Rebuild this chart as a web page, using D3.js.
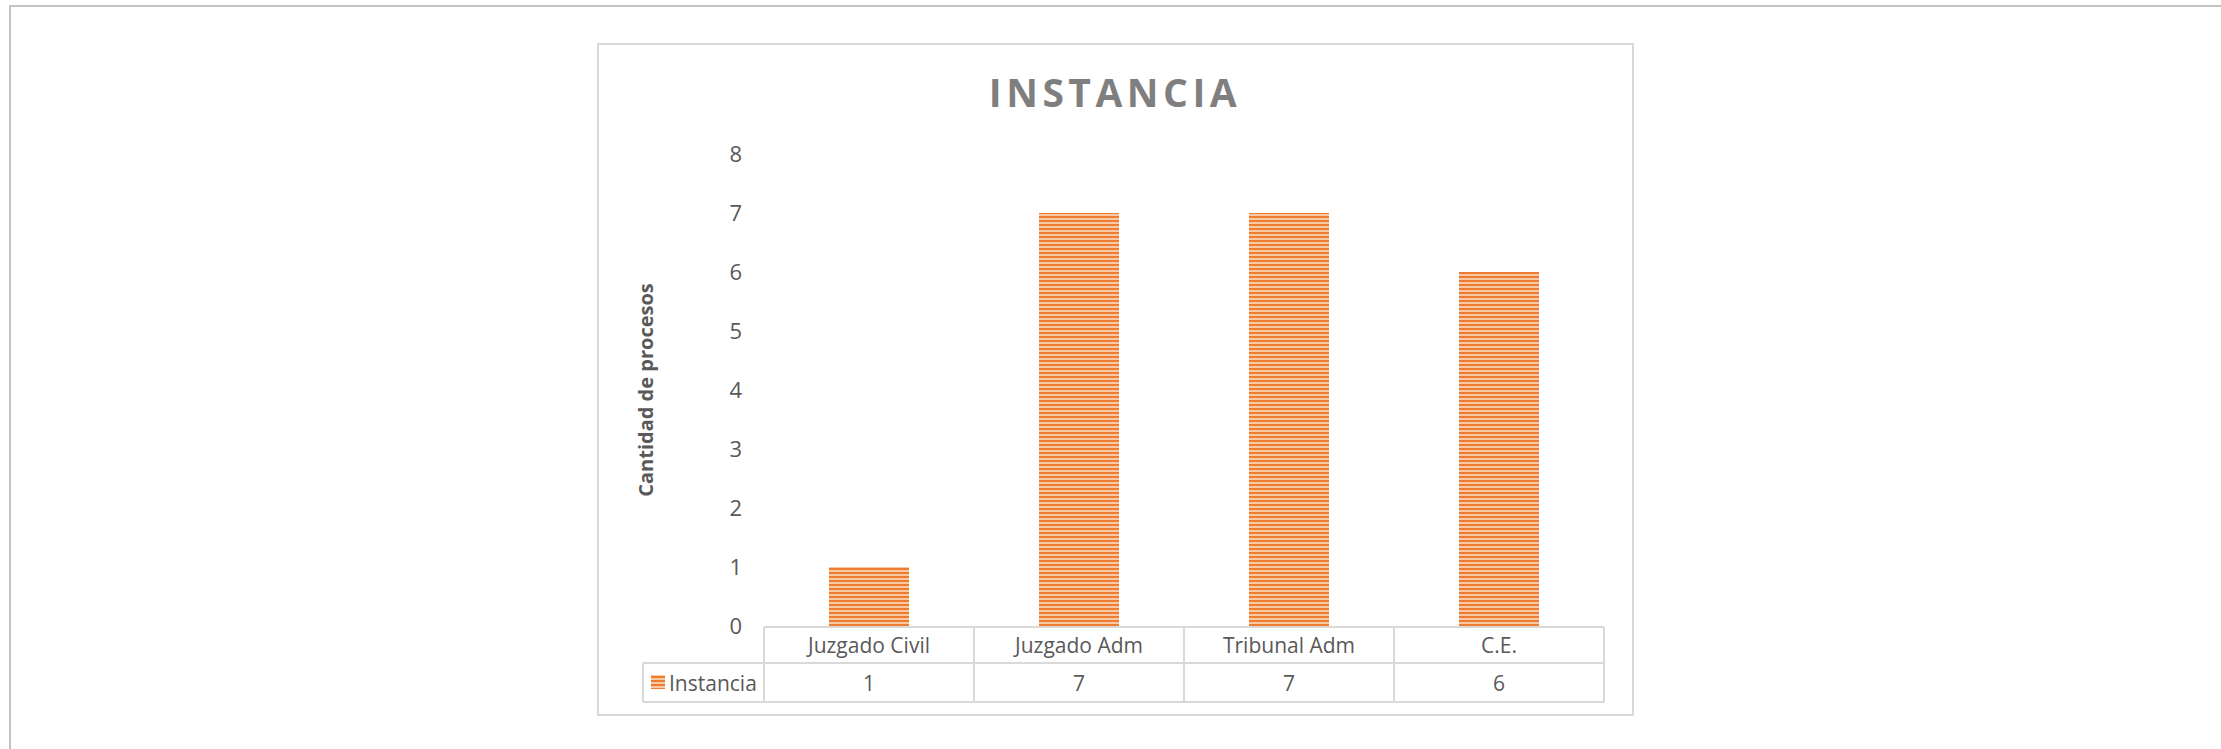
<!DOCTYPE html>
<html><head><meta charset="utf-8">
<script src="https://cdn.jsdelivr.net/npm/d3@7"></script>
<style>html,body{margin:0;padding:0;background:#fff;overflow:hidden}svg{display:block;font-family:"Open Sans",sans-serif}</style>
</head><body>
<svg id="c" width="2221" height="749"></svg>
<script>
const categories = ["Juzgado Civil", "Juzgado Adm", "Tribunal Adm", "C.E."];
const values = [1, 7, 7, 6];
const seriesName = "Instancia";
const yTicks = [0, 1, 2, 3, 4, 5, 6, 7, 8];
const title = "INSTANCIA";
const yTitle = "Cantidad de procesos";

const svg = d3.select("#c");
// outer frame
svg.append("rect").attr("x",10).attr("y",6).attr("width",2222).attr("height",760)
  .attr("fill","none").attr("stroke","#c3c3c3").attr("stroke-width",2);
// chart box
svg.append("rect").attr("x",598).attr("y",44).attr("width",1035).attr("height",671)
  .attr("fill","#fff").attr("stroke","#d9d9d9").attr("stroke-width",2);

const defs = svg.append("defs");
const pat = defs.append("pattern").attr("id","stripe").attr("patternUnits","userSpaceOnUse")
  .attr("width",8).attr("height",4);
pat.append("rect").attr("width",8).attr("height",4).attr("fill","#f9c9a4");
pat.append("rect").attr("width",8).attr("height",2).attr("fill","#ed7d31");

const x = d3.scaleBand().domain(categories).range([764,1604]).padding(0);
const y = d3.scaleLinear().domain([0,8]).range([626,154]);

// title
svg.append("text").attr("x",1115).attr("y",107).attr("text-anchor","middle")
  .attr("font-size",39).attr("font-weight","bold").attr("fill","#7f7f7f")
  .attr("letter-spacing",4.5).text(title);

// y axis
const yAxis = d3.axisLeft(y).tickValues(yTicks).tickSize(0).tickPadding(0).tickFormat(d3.format("d"));
const ga = svg.append("g").attr("transform","translate(742,0)").call(yAxis);
ga.select(".domain").remove();
ga.selectAll("text").attr("font-size",22).attr("fill","#595959").attr("font-family","Open Sans");

svg.append("text").attr("transform","translate(653,390) rotate(-90)").attr("text-anchor","middle")
  .attr("font-size",20).attr("font-weight","bold").attr("fill","#595959").text(yTitle);

// bars
const bw = 80;
svg.selectAll("rect.bar").data(values).enter().append("rect").attr("class","bar")
  .attr("x",(d,i)=>x(categories[i])+x.bandwidth()/2-bw/2)
  .attr("y",d=>y(d)).attr("width",bw).attr("height",d=>y(0)-y(d))
  .attr("fill","url(#stripe)");

// data table
const lineC = "#d9d9d9";
const r1 = 627, r2 = 663, r3 = 702, legX = 643;
const tbl = svg.append("g").attr("stroke",lineC).attr("stroke-width",2).attr("fill","none");
tbl.append("line").attr("x1",x.range()[0]).attr("x2",x.range()[1]).attr("y1",r1).attr("y2",r1);
tbl.append("line").attr("x1",legX).attr("x2",x.range()[1]).attr("y1",r2).attr("y2",r2);
tbl.append("line").attr("x1",legX).attr("x2",x.range()[1]).attr("y1",r3).attr("y2",r3);
tbl.append("line").attr("x1",legX).attr("x2",legX).attr("y1",r2).attr("y2",r3);
categories.concat([null]).forEach((c,i)=>{
  const xx = c===null ? x.range()[1] : x(c);
  tbl.append("line").attr("x1",xx).attr("x2",xx).attr("y1",r1).attr("y2",r3);
});
svg.selectAll("text.cat").data(categories).enter().append("text").attr("class","cat")
  .attr("x",d=>x(d)+x.bandwidth()/2).attr("y",(r1+r2)/2+8).attr("text-anchor","middle")
  .attr("font-size",21).attr("fill","#595959").text(d=>d);
svg.selectAll("text.val").data(values).enter().append("text").attr("class","val")
  .attr("x",(d,i)=>x(categories[i])+x.bandwidth()/2).attr("y",(r2+r3)/2+8).attr("text-anchor","middle")
  .attr("font-size",21).attr("fill","#595959").text(d=>d);
// legend key
svg.append("rect").attr("x",651).attr("y",675).attr("width",14).attr("height",14).attr("fill","url(#stripe)");
svg.append("text").attr("x",669).attr("y",(r2+r3)/2+8).attr("font-size",21).attr("fill","#595959").text(seriesName);
</script>
</body></html>
